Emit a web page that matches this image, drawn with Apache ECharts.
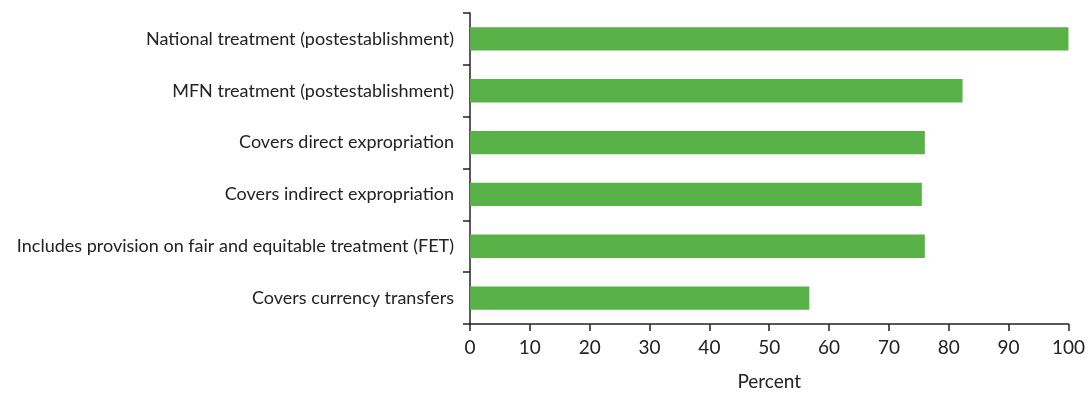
<!DOCTYPE html>
<html>
<head>
<meta charset="utf-8">
<script src="https://cdn.jsdelivr.net/npm/echarts@6/dist/echarts.min.js"></script>
<style>html,body{margin:0;padding:0;background:#fff}#c{width:1088px;height:396px}</style>
</head>
<body>
<div id="c"></div>
<script>
var categories = [
  "National treatment (postestablishment)",
  "MFN treatment (postestablishment)",
  "Covers direct expropriation",
  "Covers indirect expropriation",
  "Includes provision on fair and equitable treatment (FET)",
  "Covers currency transfers"
];
var values = [100, 82.3, 76, 75.5, 76, 56.7];
var xTicks = [0, 10, 20, 30, 40, 50, 60, 70, 80, 90, 100];

var chart = echarts.init(document.getElementById('c'));
var font = 'Lato, "Open Sans", sans-serif';
chart.setOption({
  animation: false,
  grid: {left: 470, right: 18, top: 13, bottom: 68, containLabel: false},
  xAxis: {
    type: 'value', min: 0, max: 100, interval: 10,
    name: 'Percent', nameLocation: 'middle', nameGap: 48,
    nameTextStyle: {color: '#222', fontSize: 19, fontFamily: font},
    axisLine: {show: true, lineStyle: {color: '#222', width: 1.5}},
    axisTick: {show: true, length: 7, lineStyle: {color: '#222', width: 1.5}},
    axisLabel: {color: '#222', fontSize: 19, fontFamily: font, margin: 14,
      formatter: function(v){ return xTicks.indexOf(v) >= 0 ? String(v) : ''; }},
    splitLine: {show: false}
  },
  yAxis: {
    type: 'category', data: categories, inverse: true,
    axisLine: {show: true, lineStyle: {color: '#222', width: 1.5}},
    axisTick: {show: true, length: 7, alignWithLabel: false, lineStyle: {color: '#222', width: 1.5}},
    axisLabel: {color: '#222', fontSize: 18, fontFamily: font, margin: 16}
  },
  series: [{
    type: 'bar', data: values, barWidth: '45%',
    itemStyle: {color: '#58b247'}
  }]
});
</script>
</body>
</html>
